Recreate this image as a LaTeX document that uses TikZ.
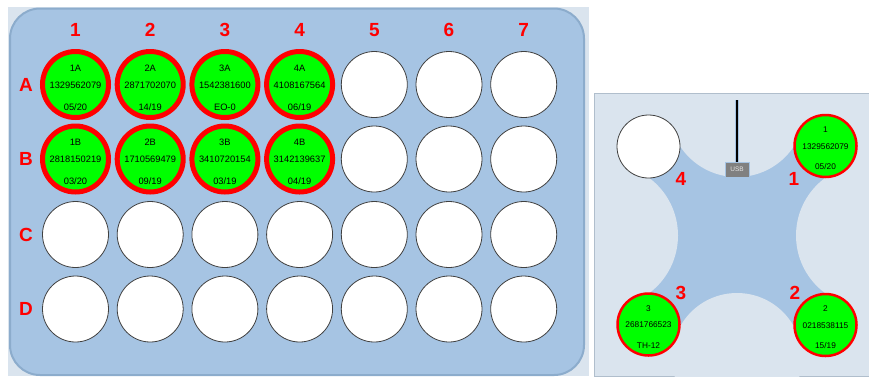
\documentclass[tikz,border=0pt]{standalone}
\usepackage{fontspec}
\setmainfont{Liberation Sans}
\definecolor{plate}{RGB}{166,196,227}
\definecolor{plateedge}{RGB}{140,172,204}
\definecolor{lightbg}{RGB}{218,228,238}
\definecolor{paneledge}{RGB}{176,190,204}
\definecolor{wellgreen}{RGB}{0,255,0}
\definecolor{wellred}{RGB}{255,0,0}
\definecolor{usbgray}{RGB}{128,128,128}
\tikzset{
  emptywell/.style={circle, draw=black!75, line width=0.8pt, fill=white, minimum size=66pt, inner sep=0pt},
  fullwell/.style={circle, draw=wellred, line width=5pt, fill=wellgreen, minimum size=66pt, inner sep=0pt},
  smallempty/.style={circle, draw=black!75, line width=0.8pt, fill=white, minimum size=63pt, inner sep=0pt},
  smallfull/.style={circle, draw=wellred, line width=2.5pt, fill=wellgreen, minimum size=62pt, inner sep=0pt},
  welltext/.style={inner sep=0pt, font=\fontsize{9.3}{9.5}\selectfont},
  swelltext/.style={inner sep=0pt, font=\fontsize{8.3}{8.5}\selectfont},
  lbl/.style={inner sep=0pt, text=wellred, font=\bfseries\fontsize{19}{19}\selectfont},
}
\newcommand{\fullw}[6]{%
  \node[fullwell] (#1) at (#2,#3) {};
  \node[welltext] (#1id) at ([yshift=16.5pt]#1.center) {#4};
  \node[welltext] (#1num) at ([yshift=-0.5pt]#1.center) {#5};
  \node[welltext] (#1date) at ([yshift=-22.5pt]#1.center) {#6};
}
\newcommand{\smallw}[6]{%
  \node[smallfull] (#1) at (#2,#3) {};
  \node[swelltext] (#1id) at ([yshift=16pt]#1.center) {#4};
  \node[swelltext] (#1num) at ([yshift=-0.5pt]#1.center) {#5};
  \node[swelltext] (#1date) at ([yshift=-21pt]#1.center) {#6};
}
\begin{document}
\begin{tikzpicture}[x=1pt,y=-1pt]
\useasboundingbox (0,0) rectangle (869,376);
% left plate
\fill[lightbg] (8,7) rectangle (589,376);
\draw[plateedge, fill=plate, line width=2pt, rounded corners=30pt] (10,8.5) rectangle (584,375);
% column labels
\foreach \c in {1,...,7} {
  \node[lbl] (col\c) at ({75.5+74.7*(\c-1)},30) {\c};
}
% row labels
\node[lbl] (rowA) at (26,84.5) {A};
\node[lbl] (rowB) at (26,159) {B};
\node[lbl] (rowC) at (26,234.5) {C};
\node[lbl] (rowD) at (26,309) {D};
% filled wells
\fullw{wA1}{75.5}{84.5}{1A}{1329562079}{05/20}
\fullw{wA2}{150.2}{84.5}{2A}{2871702070}{14/19}
\fullw{wA3}{224.9}{84.5}{3A}{1542381600}{EO-0}
\fullw{wA4}{299.6}{84.5}{4A}{4108167564}{06/19}
\fullw{wB1}{75.5}{159}{1B}{2818150219}{03/20}
\fullw{wB2}{150.2}{159}{2B}{1710569479}{09/19}
\fullw{wB3}{224.9}{159}{3B}{3410720154}{03/19}
\fullw{wB4}{299.6}{159}{4B}{3142139637}{04/19}
% empty wells rows A,B
\foreach \c in {5,6,7} {
  \node[emptywell] (wA\c) at ({75.5+74.7*(\c-1)},84.5) {};
  \node[emptywell] (wB\c) at ({75.5+74.7*(\c-1)},159) {};
}
% empty wells rows C,D
\foreach \c in {1,...,7} {
  \node[emptywell] (wC\c) at ({75.5+74.7*(\c-1)},234.5) {};
  \node[emptywell] (wD\c) at ({75.5+74.7*(\c-1)},309) {};
}
% right panel
\draw[paneledge, fill=lightbg, line width=1pt] (594.5,93.5) rectangle (869,376);
\begin{scope}
  \clip (595,94) rectangle (869,376);
  \fill[plate] (648.5,146) rectangle (825.5,325);
  \fill[lightbg] (737,109) circle (68);
  \fill[lightbg] (737,358) circle (65);
  \fill[lightbg] (606,235.5) circle (72);
  \fill[lightbg] (867.5,235.5) circle (71.5);
\end{scope}
% usb
\coordinate (usbtop) at (737,100);
\node[draw=plate, fill=usbgray, line width=1pt, minimum width=24pt, minimum height=15pt, inner sep=0pt,
      text=black!10, font=\fontsize{6.5}{6.5}\selectfont] (usb) at (737,169.5) {USB};
\draw[plate, line width=4pt] (usbtop) -- (usb.north);
\draw[black, line width=2pt] (usbtop) -- (usb.north);
% right wells
\node[smallempty] (p4) at (648.5,146.5) {};
\smallw{p1}{825.5}{146}{1}{1329562079}{05/20}
\smallw{p3}{648.5}{324.5}{3}{2681766523}{TH-12}
\smallw{p2}{825.5}{325}{2}{0218538115}{15/19}
% position labels
\node[lbl] (l4) at (681,179) {4};
\node[lbl] (l1) at (794,179) {1};
\node[lbl] (l3) at (681,293) {3};
\node[lbl] (l2) at (795,293) {2};
\end{tikzpicture}
\end{document}
